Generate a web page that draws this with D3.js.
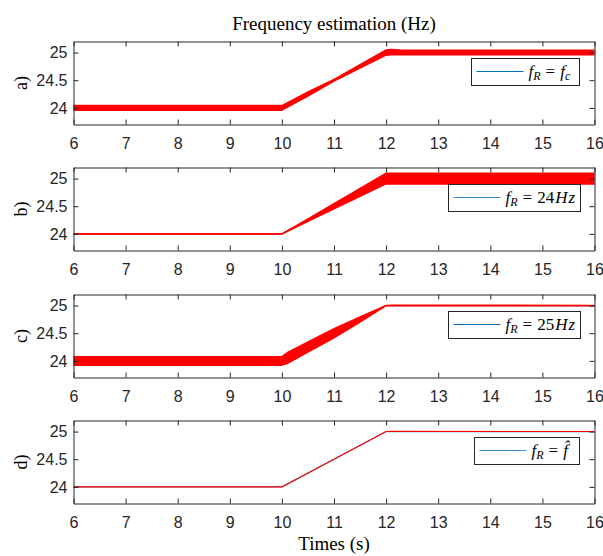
<!DOCTYPE html>
<html>
<head>
<meta charset="utf-8">
<script src="https://cdn.jsdelivr.net/npm/d3@7"></script>
<style>
  body { margin: 0; background: #fff; }
  svg { display: block; }
  .tick text { font-family: "Liberation Sans", Arial, sans-serif; font-size: 16px; fill: #262626; }
  .tick line, .domain { stroke: #262626; stroke-width: 1; }
  .cm { font-family: "Liberation Serif", "DejaVu Serif", serif; fill: #000; }
</style>
</head>
<body>
<script>
// ticks
let xTicks = [6, 7, 8, 9, 10, 11, 12, 13, 14, 15, 16];
let yTicks = [24, 24.5, 25];
let yTickLabels = ['24', '24.5', '25'];

// true frequency (blue line, mostly hidden under red)
let refTime = [6, 10, 12, 16];
let refFreq = [24, 24, 25, 25];

// red estimate envelopes (lower / upper edge of the ripple)
let timeA  = [6, 10, 10.5, 11, 11.5, 12, 12.1, 12.3, 16];
let lowerA = [23.955, 23.955, 24.21, 24.48, 24.715, 24.95, 24.955, 24.955, 24.955];
let upperA = [24.045, 24.045, 24.29, 24.52, 24.785, 25.05, 25.06, 25.045, 25.045];

let timeB  = [6, 10, 10.5, 11, 11.5, 12, 12.1, 16];
let lowerB = [23.995, 23.995, 24.225, 24.45, 24.675, 24.9, 24.9, 24.9];
let upperB = [24.005, 24.005, 24.275, 24.55, 24.825, 25.1, 25.1, 25.1];

let timeC  = [6, 10, 10.1, 10.5, 11, 11.5, 12, 12.1, 16];
let lowerC = [23.92, 23.92, 23.95, 24.155, 24.415, 24.7, 24.995, 24.995, 24.995];
let upperC = [24.08, 24.08, 24.15, 24.345, 24.585, 24.8, 25.005, 25.01, 25.005];

let timeD  = [6, 10, 12, 12.1, 16];
let lowerD = [24, 24, 25, 25.005, 25];
let upperD = [24, 24, 25, 25.005, 25];

let panelLabels = ['a)', 'b)', 'c)', 'd)'];
let legendSubs = ['f_c', '24Hz', '25Hz', 'fhat'];
let legendColors = ['#0072BD', '#3A93D3', '#0072BD', '#3A93D3'];

let panels = [
  {t: timeA, lo: lowerA, hi: upperA},
  {t: timeB, lo: lowerB, hi: upperB},
  {t: timeC, lo: lowerC, hi: upperC},
  {t: timeD, lo: lowerD, hi: upperD}
];

let width = 603, height = 556;
let left = 73.5, right = 594.5;
let tops = [41.5, 167.5, 294.5, 420.5];
let ph = 83;

let svg = d3.select('body')
  .append('svg')
  .attr('width', width)
  .attr('height', height);

let x = d3.scaleLinear().domain([6, 16]).range([left, right]);

// title
svg.append('text')
   .attr('class', 'cm')
   .attr('x', (left + right) / 2)
   .attr('y', 30)
   .attr('text-anchor', 'middle')
   .style('font-size', '19px')
   .text('Frequency estimation (Hz)');

panels.forEach(function(p, i) {
  let top = tops[i];
  let y = d3.scaleLinear().domain([23.7, 25.2]).range([top + ph, top]);
  let g = svg.append('g');

  g.append('clipPath').attr('id', 'clip' + i)
   .append('rect').attr('x', left).attr('y', top).attr('width', right - left).attr('height', ph);

  let plot = g.append('g').attr('clip-path', 'url(#clip' + i + ')');

  // blue line
  let line = d3.line()
    .x(function(d, k) { return x(refTime[k]); })
    .y(function(d) { return y(d); });
  plot.append('path')
      .attr('d', line(refFreq))
      .attr('fill', 'none')
      .attr('stroke', legendColors[i])
      .attr('stroke-width', 1.2);

  // red band
  let area = d3.area()
    .x(function(d, k) { return x(p.t[k]); })
    .y0(function(d, k) { return y(p.lo[k]); })
    .y1(function(d, k) { return y(p.hi[k]); });
  plot.append('path')
      .attr('d', area(p.t))
      .attr('fill', '#ff0000')
      .attr('stroke', '#ff0000')
      .attr('stroke-width', 1.1)
      .attr('stroke-linejoin', 'round');

  // axes on all 4 sides, ticks pointing inward
  g.append('g')
   .attr('transform', 'translate(0,' + (top + ph) + ')')
   .call(d3.axisBottom(x).tickValues(xTicks).tickSizeInner(-5).tickSizeOuter(0).tickPadding(13));
  g.append('g')
   .attr('transform', 'translate(0,' + top + ')')
   .call(d3.axisTop(x).tickValues(xTicks).tickSizeInner(-5).tickSizeOuter(0).tickFormat(''));
  g.append('g')
   .attr('transform', 'translate(' + left + ',0)')
   .call(d3.axisLeft(y).tickValues(yTicks).tickSizeInner(-5).tickSizeOuter(0).tickPadding(6)
          .tickFormat(function(d, k) { return yTickLabels[k]; }));
  g.append('g')
   .attr('transform', 'translate(' + right + ',0)')
   .call(d3.axisRight(y).tickValues(yTicks).tickSizeInner(-5).tickSizeOuter(0).tickFormat(''));

  // panel label
  g.append('text')
   .attr('class', 'cm')
   .attr('transform', 'translate(27,' + (top + ph / 2) + ') rotate(-90)')
   .attr('text-anchor', 'middle')
   .style('font-size', '18px')
   .text(panelLabels[i]);

  // legend
  let leg = g.append('g');
  let box = leg.append('rect')
    .attr('fill', '#fff')
    .attr('stroke', '#262626')
    .attr('stroke-width', 1);
  let sym = leg.append('line')
    .attr('stroke', legendColors[i])
    .attr('stroke-width', 1.2);
  let txt = leg.append('text')
    .attr('class', 'cm')
    .style('font-size', '17px')
    .style('font-style', 'italic');
  txt.append('tspan').text('f');
  txt.append('tspan').attr('dy', 3).style('font-size', '12px').text('R');
  txt.append('tspan').attr('dy', -3).attr('dx', 5).style('font-style', 'normal').text('=');
  let sub = legendSubs[i];
  if (sub === 'f_c') {
    txt.append('tspan').attr('dx', 5).text('f');
    txt.append('tspan').attr('dy', 3).style('font-size', '12px').text('c');
  } else if (sub === 'fhat') {
    txt.append('tspan').attr('dx', 5).text('f\u0302');
  } else {
    txt.append('tspan').attr('dx', 5).text(sub.replace('Hz', '')).style('font-style', 'normal');
    txt.append('tspan').attr('dx', 1).text('H');
    txt.append('tspan').attr('dx', 1).text('z');
  }

  let tw = txt.node().getBBox().width;
  let bw = 5 + 47 + 5 + tw + 5;
  if (sub === 'fhat' || sub === 'f_c') bw += 4;
  let bx = Math.round(right - 15 - bw) + 0.5;
  let by = top + 17;
  box.attr('x', bx).attr('y', by).attr('width', Math.round(bw)).attr('height', 27);
  sym.attr('x1', bx + 5).attr('x2', bx + 52).attr('y1', by + 13).attr('y2', by + 13);
  txt.attr('x', bx + 57).attr('y', by + 18.5);
});

// x label
svg.append('text')
   .attr('class', 'cm')
   .attr('x', (left + right) / 2)
   .attr('y', 550)
   .attr('text-anchor', 'middle')
   .style('font-size', '19px')
   .text('Times (s)');
</script>
</body>
</html>
